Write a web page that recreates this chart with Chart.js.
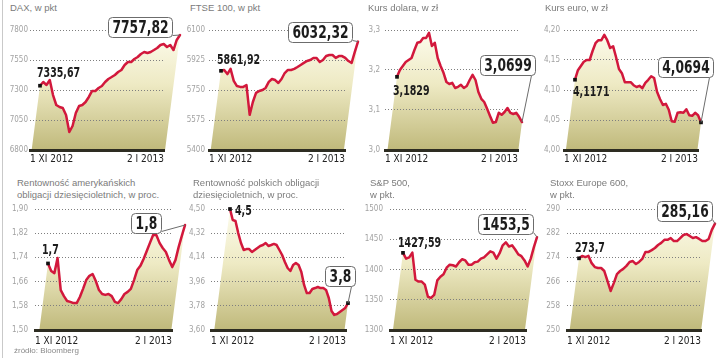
<!DOCTYPE html>
<html><head><meta charset="utf-8">
<script src="https://cdn.jsdelivr.net/npm/chart.js@4/dist/chart.umd.min.js"></script>
<style>
html,body{margin:0;padding:0;background:#fff;width:720px;height:358px;overflow:hidden;position:relative;font-family:"Liberation Sans",Arial,sans-serif}
canvas{position:absolute}
.t{position:absolute;font-size:9.5px;line-height:12px;color:#7b7b7b;white-space:nowrap}
.src{position:absolute;left:14px;top:346px;font-size:8px;color:#8a8a8a}
.vl{position:absolute;left:2px;top:0;width:1px;height:358px;background:#c9c9c9}
</style></head><body>
<div class="vl"></div>
<script>
// ---- data ----
const xTickLabels = ['1 XI 2012', '2 I 2013'];

const titles = [
  'DAX, w pkt', 'FTSE 100, w pkt', 'Kurs dolara, w zł', 'Kurs euro, w zł',
  'Rentowność amerykańskich<br>obligacji dziesięcioletnich, w proc.',
  'Rentowność polskich obligacji<br>dziesięcioletnich, w proc.',
  'S&amp;P 500,<br>w pkt.', 'Stoxx Europe 600,<br>w pkt.'
];
const startLabels = ['7335,67', '5861,92', '3,1829', '4,1171', '1,7', '4,5', '1427,59', '273,7'];
const endLabels   = ['7757,82', '6032,32', '3,0699', '4,0694', '1,8', '3,8', '1453,5', '285,16'];

const daxValues = [7335.67, 7367, 7342, 7383, 7258, 7175, 7158, 7150, 7092, 6950, 7000, 7108, 7167, 7175, 7200, 7242, 7292, 7292, 7317, 7333, 7367, 7392, 7408, 7425, 7450, 7467, 7508, 7533, 7533, 7558, 7575, 7600, 7617, 7608, 7617, 7633, 7650, 7675, 7683, 7658, 7675, 7633, 7717, 7757.82];
const ftseValues = [5861.92, 5867, 5843, 5873, 5803, 5773, 5768, 5768, 5779, 5605, 5680, 5733, 5744, 5750, 5762, 5797, 5814, 5808, 5791, 5814, 5849, 5867, 5867, 5873, 5884, 5896, 5908, 5919, 5925, 5937, 5937, 5913, 5925, 5948, 5954, 5954, 5937, 5948, 5948, 5937, 5919, 5908, 5972, 6032.32];
const usdValues = [3.1829, 3.200, 3.210, 3.220, 3.225, 3.230, 3.250, 3.268, 3.270, 3.280, 3.280, 3.293, 3.260, 3.268, 3.230, 3.210, 3.193, 3.170, 3.165, 3.168, 3.155, 3.158, 3.163, 3.155, 3.160, 3.175, 3.188, 3.175, 3.145, 3.128, 3.120, 3.103, 3.085, 3.068, 3.070, 3.093, 3.088, 3.095, 3.105, 3.093, 3.090, 3.093, 3.083, 3.0699];
const eurValues = [4.1171, 4.133, 4.140, 4.147, 4.150, 4.150, 4.165, 4.178, 4.183, 4.183, 4.192, 4.183, 4.170, 4.173, 4.155, 4.135, 4.128, 4.113, 4.113, 4.113, 4.108, 4.105, 4.107, 4.103, 4.112, 4.117, 4.123, 4.120, 4.097, 4.085, 4.075, 4.077, 4.067, 4.048, 4.047, 4.062, 4.063, 4.062, 4.068, 4.058, 4.057, 4.062, 4.058, 4.046];
const us10Values = [1.72, 1.695, 1.688, 1.738, 1.632, 1.612, 1.596, 1.593, 1.589, 1.589, 1.609, 1.636, 1.665, 1.679, 1.685, 1.662, 1.632, 1.619, 1.616, 1.619, 1.612, 1.593, 1.589, 1.602, 1.619, 1.626, 1.636, 1.665, 1.698, 1.712, 1.735, 1.761, 1.788, 1.814, 1.814, 1.788, 1.771, 1.758, 1.731, 1.708, 1.731, 1.774, 1.811, 1.847];
const pl10Values = [4.50, 4.418, 4.411, 4.321, 4.247, 4.195, 4.202, 4.202, 4.180, 4.195, 4.210, 4.225, 4.232, 4.247, 4.225, 4.232, 4.240, 4.232, 4.195, 4.158, 4.106, 4.061, 4.039, 4.083, 4.098, 4.083, 4.031, 3.935, 3.875, 3.875, 3.905, 3.912, 3.920, 3.912, 3.912, 3.898, 3.838, 3.741, 3.712, 3.719, 3.734, 3.749, 3.764, 3.80];
const spxValues = [1427.59, 1418, 1420, 1428, 1383, 1380, 1380, 1375, 1355, 1353, 1358, 1382, 1388, 1392, 1403, 1408, 1407, 1405, 1412, 1417, 1415, 1408, 1408, 1412, 1413, 1418, 1420, 1425, 1430, 1428, 1418, 1427, 1440, 1445, 1438, 1440, 1433, 1425, 1422, 1415, 1405, 1418, 1437, 1453.5];
const stoxxValues = [273.7, 274.5, 274.1, 274.5, 272.1, 270.8, 270.5, 270.5, 269.5, 266.2, 262.9, 265.5, 268.5, 269.5, 270.2, 271.2, 272.5, 272.8, 271.8, 272.5, 273.5, 275.8, 275.8, 276.4, 277.1, 278.1, 278.8, 279.8, 279.8, 280.4, 279.4, 279.4, 280.4, 281.4, 281.7, 281.1, 280.4, 280.7, 280.1, 279.4, 279.4, 280.1, 283.1, 285.16];

const daxTicks = [6800, 7050, 7300, 7550, 7800];
const ftseTicks = [5400, 5575, 5750, 5925, 6100];
const usdTicks = [3.0, 3.1, 3.2, 3.3];
const eurTicks = [4.00, 4.05, 4.10, 4.15, 4.20];
const us10Ticks = [1.50, 1.58, 1.66, 1.74, 1.82, 1.90];
const pl10Ticks = [3.60, 3.78, 3.96, 4.14, 4.32, 4.50];
const spxTicks = [1300, 1350, 1400, 1450, 1500];
const stoxxTicks = [250, 258, 266, 274, 282, 290];

// ---- layout / style ----
const RED = '#d2183c';
const NARROW = '"Liberation Sans Narrow", "DejaVu Sans Condensed", "Liberation Sans", sans-serif';
const SKEW = 0.13;
const SX = 0.78; // horizontal condensing of callout text

const panels = [
  {values: daxValues,  ticks: daxTicks,  dec: 0, left: 0,   top: 0,   h: 170, T: 30, B: 150, L: 30, R: 164, fx: 40, lx: 180, tp: 2, xp: 3, sOff: [-3, -9], box: [-40, -8], anc: 'right', tx: 10},
  {values: ftseValues, ticks: ftseTicks, dec: 0, left: 180, top: 0,   h: 170, T: 30, B: 150, L: 29, R: 165, fx: 41, lx: 178, tp: 4, xp: 3, sOff: [-4, -7], box: [-38.5, -10], anc: 'right', tx: 190},
  {values: usdValues,  ticks: usdTicks,  dec: 1, left: 360, top: 0,   h: 170, T: 30, B: 150, L: 25, R: 158, fx: 37, lx: 162, tp: 5, xp: 3, sOff: [-4, 18], box: [-15, -57], anc: 'bottom', tx: 368},
  {values: eurValues,  ticks: eurTicks,  dec: 2, left: 540, top: 0,   h: 170, T: 30, B: 150, L: 24, R: 158, fx: 35, lx: 161, tp: 4, xp: 3, sOff: [-2, 16], box: [-16, -55.5], anc: 'bottom', tx: 545},
  {values: us10Values, ticks: us10Ticks, dec: 2, left: 0,   top: 170, h: 188, T: 39, B: 160, L: 35, R: 172, fx: 48, lx: 185, tp: 7, xp: 5.5, sOff: [-6, -9], box: [-39.5, -2], anc: 'right', tx: 17},
  {values: pl10Values, ticks: pl10Ticks, dec: 2, left: 180, top: 170, h: 188, T: 39, B: 160, L: 31, R: 166, fx: 50, lx: 168, tp: 6, xp: 5.5, sOff: [5, 6], box: [-8, -27], anc: 'bottom', tx: 193},
  {values: spxValues,  ticks: spxTicks,  dec: 0, left: 360, top: 170, h: 188, T: 39, B: 160, L: 30, R: 166, fx: 43, lx: 177, tp: 7, xp: 5.5, sOff: [-5, -6], box: [-32, -13.5], anc: 'right', tx: 370},
  {values: stoxxValues,ticks: stoxxTicks,dec: 0, left: 540, top: 170, h: 188, T: 39, B: 160, L: 27, R: 161, fx: 39, lx: 175, tp: 7, xp: 5.5, sOff: [-4, -6], box: [-31, -12.5], anc: 'right', tx: 550}
];

const fillPlugin = {
  id: 'skewFill',
  beforeDraw(chart) {
    const pts = chart.getDatasetMeta(0).data;
    if (!pts.length) return;
    const {ctx, chartArea} = chart;
    const B = chartArea.bottom;
    const g = ctx.createLinearGradient(0, chartArea.top, 0, B);
    g.addColorStop(0, '#fdfcee');
    g.addColorStop(0.45, '#eeeac4');
    g.addColorStop(1, '#c0b97b');
    ctx.save();
    ctx.beginPath();
    ctx.moveTo(pts[0].x - (B - pts[0].y) * SKEW, B);
    pts.forEach(p => ctx.lineTo(p.x, p.y));
    const l = pts[pts.length - 1];
    ctx.lineTo(l.x - (B - l.y) * SKEW, B);
    ctx.closePath();
    ctx.fillStyle = g;
    ctx.fill();
    ctx.restore();
  }
};

function condensedText(ctx, text, x, y, align) {
  ctx.save();
  ctx.translate(x, y);
  ctx.scale(SX, 1);
  ctx.textAlign = align;
  ctx.fillText(text, 0, 0);
  ctx.restore();
}

function annoPlugin(p, i) {
  return {
    id: 'anno' + i,
    afterDraw(chart) {
      const pts = chart.getDatasetMeta(0).data;
      const {ctx} = chart;
      const f = pts[0], l = pts[pts.length - 1];
      ctx.save();
      // start label
      ctx.font = 'bold 13.5px ' + NARROW;
      ctx.fillStyle = '#1c1c1c';
      ctx.textBaseline = 'alphabetic';
      condensedText(ctx, startLabels[i], f.x + p.sOff[0], f.y + p.sOff[1], 'left');
      // end box
      ctx.font = 'bold 17.5px ' + NARROW;
      const tw = ctx.measureText(endLabels[i]).width * SX;
      const bw = Math.round(tw + 8), bh = 20;
      const cx = l.x + p.box[0], cy = l.y + p.box[1];
      const bx = Math.round(cx - bw / 2) + 0.5, by = Math.round(cy - bh / 2) + 0.5;
      ctx.strokeStyle = '#6c6c6c';
      ctx.lineWidth = 1;
      ctx.beginPath();
      if (p.anc === 'right') { ctx.moveTo(bx + bw, by + bh - 2); }
      else { ctx.moveTo(bx + bw - 4, by + bh); }
      ctx.lineTo(l.x, l.y);
      ctx.stroke();
      ctx.beginPath();
      ctx.roundRect(bx, by, bw, bh, 4);
      ctx.fillStyle = '#fff';
      ctx.fill();
      ctx.stroke();
      ctx.fillStyle = '#1c1c1c';
      ctx.textBaseline = 'middle';
      condensedText(ctx, endLabels[i], bx + bw / 2, by + bh / 2 + 1, 'center');
      ctx.restore();
    }
  };
}

panels.forEach((p, i) => {
  const W = 190;
  const t = document.createElement('div');
  t.className = 't';
  t.style.left = p.tx + 'px';
  t.style.top = (p.top === 0 ? 1.5 : 177) + 'px';
  t.innerHTML = titles[i];
  document.body.appendChild(t);

  const c = document.createElement('canvas');
  c.width = W; c.height = p.h;
  c.style.left = p.left + 'px'; c.style.top = p.top + 'px';
  c.style.width = W + 'px'; c.style.height = p.h + 'px';
  document.body.appendChild(c);

  const n = p.values.length;
  const a = (p.fx - p.L) / (p.R - p.L), b = (p.lx - p.L) / (p.R - p.L);
  const range = (n - 1) / (b - a);
  const xmin = -a * range, xmax = xmin + range;

  new Chart(c, {
    type: 'line',
    data: {
      datasets: [{
        data: p.values.map((v, k) => ({x: k, y: v})),
        borderColor: RED,
        borderWidth: 2.5,
        borderJoinStyle: 'round',
        borderCapStyle: 'round',
        tension: 0,
        fill: false,
        clip: false,
        pointStyle: 'rect',
        pointRadius: ctx => (ctx.dataIndex === 0 || ctx.dataIndex === n - 1) ? 2.6 : 0,
        pointBackgroundColor: '#111',
        pointBorderWidth: 0
      }]
    },
    options: {
      responsive: false,
      animation: false,
      events: [],
      layout: {padding: {left: 0, top: p.T, right: W - p.R, bottom: 0}},
      plugins: {legend: {display: false}, tooltip: {enabled: false}, title: {display: false}},
      scales: {
        x: {
          type: 'linear', bounds: 'data',
          afterDataLimits: s => { s.min = xmin; s.max = xmax; },
          afterFit: s => { s.height = p.h - p.B; },
          afterBuildTicks: s => { s.ticks = [{value: xmin}, {value: xmax}]; },
          grid: {display: false, drawTicks: false},
          border: {display: true, color: '#2e2d22', width: 3},
          ticks: {autoSkip: false, maxRotation: 0, align: 'inner', padding: p.xp, color: '#222',
                  font: {family: NARROW, size: 10}, callback: (v, k) => xTickLabels[k]}
        },
        y: {
          min: p.ticks[0], max: p.ticks[p.ticks.length - 1],
          afterFit: s => { s.width = p.L; },
          afterBuildTicks: s => { s.ticks = p.ticks.map(v => ({value: v})); },
          grid: {color: '#7f7f7f', lineWidth: 1, drawTicks: false},
          border: {display: false, dash: [1, 2]},
          ticks: {padding: p.tp, color: '#a2a2a2', font: {family: NARROW, size: 8},
                  callback: v => Number(v).toFixed(p.dec).replace('.', ',')}
        }
      }
    },
    plugins: [fillPlugin, annoPlugin(p, i)]
  });
});

const s = document.createElement('div');
s.className = 'src';
s.textContent = 'źródło: Bloomberg';
document.body.appendChild(s);
</script>
</body></html>
